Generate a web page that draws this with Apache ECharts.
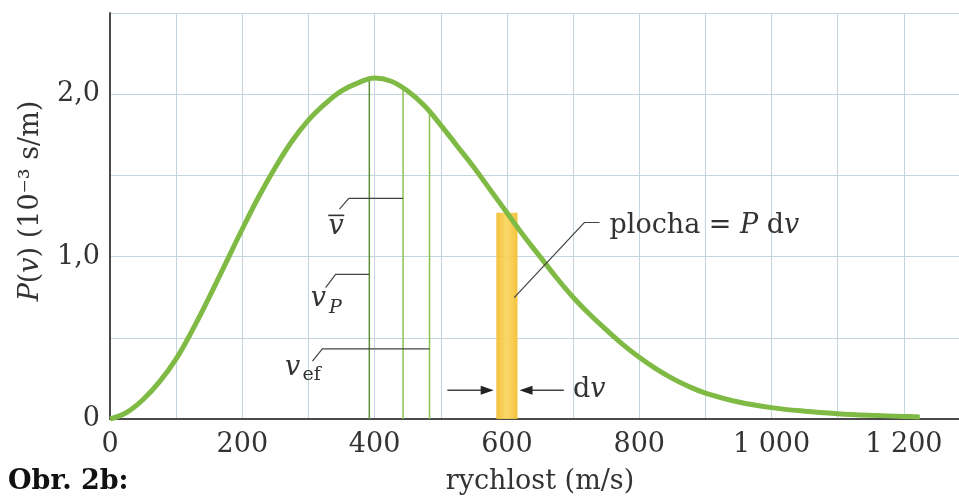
<!DOCTYPE html>
<html><head><meta charset="utf-8">
<script src="https://cdn.jsdelivr.net/npm/echarts@6/dist/echarts.min.js"></script>
<style>html,body{margin:0;padding:0;background:#fff}#c{width:959px;height:499px}</style>
</head><body><div id="c"></div>
<script>
// ---- data ----
const speeds  = [0, 25, 50, 75, 100, 125, 150, 175, 200, 225, 250, 275, 300, 325, 350, 375, 400, 425, 450, 475, 500, 525, 550, 575, 600, 625, 650, 675, 700, 725, 750, 775, 800, 825, 850, 875, 900, 950, 1000, 1050, 1100, 1150, 1200, 1224];
const density = [0, 0.04, 0.12, 0.23, 0.37, 0.55, 0.75, 0.96, 1.17, 1.37, 1.55, 1.71, 1.84, 1.94, 2.02, 2.07, 2.10, 2.08, 2.02, 1.93, 1.81, 1.68, 1.55, 1.41, 1.27, 1.13, 1.00, 0.87, 0.75, 0.645, 0.55, 0.46, 0.38, 0.31, 0.25, 0.20, 0.16, 0.105, 0.07, 0.048, 0.033, 0.023, 0.016, 0.013];
const charSpeeds  = [392, 443, 483];      // v_P, mean v, v_ef
const charHeights = [2.10, 2.03, 1.88];
const bandSpeeds = [584, 616];
const bandHeight = 1.27;
const xTickValues = [0, 200, 400, 600, 800, 1000, 1200];
const xTickLabels = ['0', '200', '400', '600', '800', '1 000', '1 200'];
const yTickValues = [0, 1, 2];
const yTickLabels = ['0', '1,0', '2,0'];

const FONT = 'DejaVu Serif';
const TXT = '#333';
const chart = echarts.init(document.getElementById('c'));

const option = {
  animation: false,
  backgroundColor: '#fff',
  grid: { left: 110, right: -11, top: 13, bottom: 80, containLabel: false, outerBoundsMode: 'none' },
  xAxis: {
    type: 'value', min: 0, max: 1300, interval: 100,
    axisLine: { show: true, lineStyle: { color: '#4a4a4a', width: 2 } },
    axisTick: { show: false },
    splitLine: { show: true, lineStyle: { color: '#c3d6de', width: 1 } },
    axisLabel: {
      margin: 12, fontFamily: FONT, fontSize: 27, color: TXT,
      showMaxLabel: false,
      formatter: v => { const i = xTickValues.indexOf(v); return i >= 0 ? xTickLabels[i] : ''; }
    },
    name: 'rychlost (m/s)', nameLocation: 'middle', nameGap: 49,
    nameTextStyle: { fontFamily: FONT, fontSize: 27, color: TXT }
  },
  yAxis: {
    type: 'value', min: 0, max: 2.5, interval: 0.5,
    axisLine: { show: true, lineStyle: { color: '#4a4a4a', width: 2 } },
    axisTick: { show: false },
    splitLine: { show: true, lineStyle: { color: '#c3d6de', width: 1 } },
    axisLabel: {
      margin: 10, fontFamily: FONT, fontSize: 27, color: TXT,
      formatter: v => { const i = yTickValues.indexOf(v); return i >= 0 ? yTickLabels[i] : ''; }
    }
  },
  series: [
    {
      type: 'custom', z: 2, silent: true,
      data: [[bandSpeeds[0], bandSpeeds[1], bandHeight]],
      renderItem: (params, api) => {
        const p0 = api.coord([api.value(0), 0]);
        const p1 = api.coord([api.value(1), api.value(2)]);
        return {
          type: 'rect',
          shape: { x: p0[0], y: p1[1], width: p1[0] - p0[0], height: p0[1] - p1[1] },
          style: {
            fill: new echarts.graphic.LinearGradient(0, 0, 1, 0, [
              { offset: 0, color: '#f4bd2c' }, { offset: 0.5, color: '#f9d65e' }, { offset: 1, color: '#f4bd2c' }
            ]),
            opacity: 0.92
          }
        };
      }
    },
    {
      type: 'custom', z: 3, silent: true,
      data: charSpeeds.map((v, i) => [v, charHeights[i], i]),
      renderItem: (params, api) => {
        const a = api.coord([api.value(0), 0]);
        const b = api.coord([api.value(0), api.value(1)]);
        return {
          type: 'line',
          shape: { x1: a[0], y1: a[1], x2: b[0], y2: b[1] },
          style: { stroke: api.value(2) === 0 ? '#5e8f3c' : '#8cc152', lineWidth: 1.5 }
        };
      }
    },
    {
      type: 'line', z: 5, showSymbol: false, smooth: 0.4,
      data: speeds.map((v, i) => [v, density[i]]),
      lineStyle: { color: '#7fba44', width: 5, cap: 'butt' }
    }
  ]
};
chart.setOption(option);

// ---- annotations (anchored in data coordinates) ----
const px = p => chart.convertToPixel({ gridIndex: 0 }, p);
const els = [];
const leaders = [
  [[347, 1.292], [361, 1.358], [443, 1.358]],
  [[326, 0.809], [341, 0.891], [392, 0.891]],
  [[306, 0.356], [321, 0.432], [483, 0.432]],
  [[611, 0.747], [717, 1.21], [740, 1.21]]
];
leaders.forEach(pts => els.push({
  type: 'polyline', z: 10, shape: { points: pts.map(px) },
  style: { stroke: '#444', lineWidth: 1.2, fill: null }
}));
function arrow(tail, tip) {
  const t = px(tail), h = px(tip);
  const dir = Math.sign(h[0] - t[0]);
  els.push({ type: 'line', z: 10, shape: { x1: t[0], y1: t[1], x2: h[0] - dir * 8, y2: h[1] }, style: { stroke: '#444', lineWidth: 1.3 } });
  els.push({ type: 'polygon', z: 10, shape: { points: [[h[0], h[1]], [h[0] - dir * 13, h[1] - 4.5], [h[0] - dir * 13, h[1] + 4.5]] }, style: { fill: '#222' } });
}
arrow([510, 0.177], [580, 0.177]);
arrow([686, 0.177], [619, 0.177]);

const rich = {
  r: { fontFamily: FONT, fontSize: 27, color: TXT },
  i: { fontFamily: FONT, fontSize: 27, fontStyle: 'italic', color: TXT }
};
function txt(p, text, extra) {
  const q = px(p);
  els.push(Object.assign({
    type: 'text', z: 10, x: q[0], y: q[1],
    style: Object.assign({ text, rich, align: 'center', verticalAlign: 'middle', fontFamily: FONT, fontSize: 27, fill: TXT }, extra || {})
  }));
  return q;
}
// mean v
const mv = txt([342, 1.18], '{i|v}');
els.push({ type: 'line', z: 10, shape: { x1: mv[0] - 8, y1: mv[1] - 12, x2: mv[0] + 8, y2: mv[1] - 12 }, style: { stroke: TXT, lineWidth: 1.6 } });
// v_P
const vp = txt([315, 0.736], '{i|v}');
els.push({ type: 'text', z: 10, x: vp[0] + 17, y: vp[1] + 9, style: { text: 'P', align: 'center', verticalAlign: 'middle', fontFamily: FONT, fontSize: 19, fontStyle: 'italic', fill: TXT } });
// v_ef
const ve = txt([276, 0.317], '{i|v}');
els.push({ type: 'text', z: 10, x: ve[0] + 19, y: ve[1] + 8, style: { text: 'ef', align: 'center', verticalAlign: 'middle', fontFamily: FONT, fontSize: 19, fill: TXT } });
// plocha = P dv
txt([755, 1.187], '{r|plocha = }{i|P}{r| d}{i|v}', { align: 'left' });
// dv
txt([700, 0.18], '{r|d}{i|v}', { align: 'left' });

// y-axis title
els.push({
  type: 'text', z: 10, x: 31, y: 201, rotation: Math.PI / 2,
  style: { text: '{i|P}{r|(}{i|v}{r|) (10⁻³ s/m)}', rich, align: 'center', verticalAlign: 'middle', fill: TXT }
});
// figure caption
els.push({
  type: 'text', z: 10, x: 8, y: 482,
  style: { text: 'Obr. 2b:', fontFamily: FONT, fontSize: 27, fontWeight: 'bold', fill: '#111', align: 'left', verticalAlign: 'middle' }
});
chart.setOption({ graphic: els });
</script>
</body></html>
